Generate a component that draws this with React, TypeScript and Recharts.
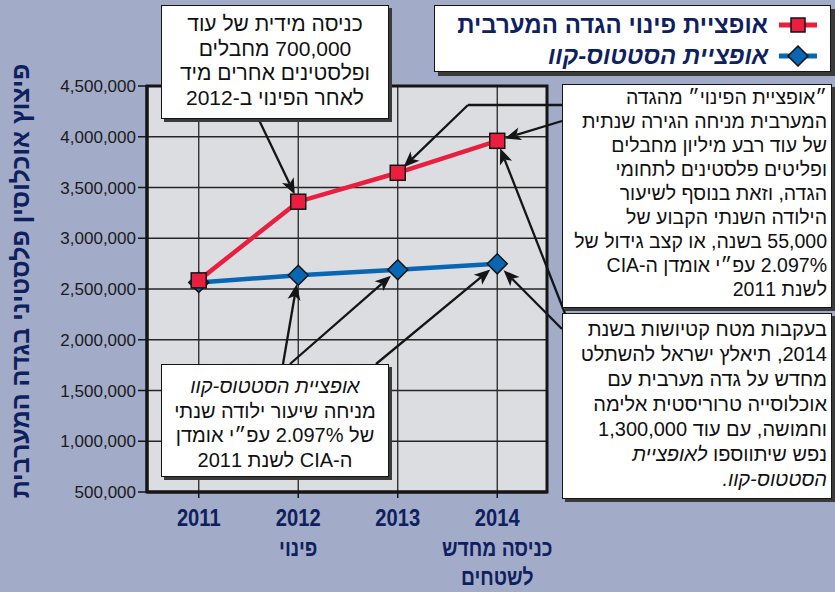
import React from 'react';
import {
  LineChart,
  Line,
  XAxis,
  YAxis,
  CartesianGrid,
  ReferenceLine,
  ReferenceArea,
} from 'recharts';

// ---------- data ----------
const years = [2011, 2012, 2013, 2014];
const evacuationSeries = [2585000, 3360000, 3645000, 3960000];
const statusQuoSeries = [2565000, 2635000, 2690000, 2748000];
const yTicks = [500000, 1000000, 1500000, 2000000, 2500000, 3000000, 3500000, 4000000, 4500000];
const xSubLabels: string[][] = [[], ['פינוי'], [], ['כניסה מחדש', 'לשטחים']];
const evacuationName = 'אופציית פינוי הגדה המערבית';
const statusQuoName = 'אופציית הסטטוס-קוו';
const yTitle = 'פיצוץ אוכלוסין פלסטיני בגדה המערבית';

const data = years.map((year, i) => ({
  year,
  evac: evacuationSeries[i],
  sq: statusQuoSeries[i],
}));

// ---------- layout / style ----------
const W = 835;
const H = 592;
const PLOT_LEFT = 147;
const PLOT_TOP = 86;
const PLOT_RIGHT = 547;
const PLOT_BOTTOM = 492;
const X_DOMAIN: [number, number] = [2010.48, 2014.5];
const Y_DOMAIN: [number, number] = [500000, 4500000];

const BG = '#a2abc8';
const PLOT_BG = '#dcdde1';
const NAVY = '#0f205e';
const RED = '#ea1f3f';
const BLUE = '#0866b2';
const INK = '#151515';
const FONT = "'Liberation Sans', Arial, 'DejaVu Sans', sans-serif";

// pixel -> data helpers for annotation tails (annotation anchors only)
const toX = (px: number) =>
  X_DOMAIN[0] + ((px - PLOT_LEFT) / (PLOT_RIGHT - PLOT_LEFT)) * (X_DOMAIN[1] - X_DOMAIN[0]);
const toY = (py: number) =>
  Y_DOMAIN[1] - ((py - PLOT_TOP) / (PLOT_BOTTOM - PLOT_TOP)) * (Y_DOMAIN[1] - Y_DOMAIN[0]);

type Arrow = { tail: [number, number]; to?: { series: 'evac' | 'sq'; idx: number }; end?: [number, number]; gap: number; head: boolean };

const arrows: Arrow[] = [
  { tail: [259, 120], to: { series: 'evac', idx: 1 }, gap: 8, head: true },
  { tail: [562, 105], end: [468, 105], gap: 0, head: false },
  { tail: [468, 105], to: { series: 'evac', idx: 2 }, gap: 8, head: true },
  { tail: [562, 121], to: { series: 'evac', idx: 3 }, gap: 8, head: true },
  { tail: [566, 316], to: { series: 'evac', idx: 3 }, gap: 8, head: true },
  { tail: [562, 329], to: { series: 'sq', idx: 3 }, gap: 9, head: true },
  { tail: [283, 364], to: { series: 'sq', idx: 1 }, gap: 9, head: true },
  { tail: [290, 364], to: { series: 'sq', idx: 2 }, gap: 9, head: true },
  { tail: [376, 364], to: { series: 'sq', idx: 3 }, gap: 9, head: true },
];

const arrowShape = (gap: number, head: boolean) => (props: any) => {
  const { x1, y1, x2, y2 } = props;
  const dx = x2 - x1;
  const dy = y2 - y1;
  const len = Math.hypot(dx, dy) || 1;
  const ux = dx / len;
  const uy = dy / len;
  if (!head) {
    return <line x1={x1} y1={y1} x2={x2 - ux * 0} y2={y2} stroke={INK} strokeWidth={2.3} />;
  }
  const tipX = x2 - ux * gap;
  const tipY = y2 - uy * gap;
  const hl = 16;
  const hw = 6.5;
  const bx = tipX - ux * hl;
  const by = tipY - uy * hl;
  const nx = -uy;
  const ny = ux;
  const notchX = tipX - ux * (hl - 4);
  const notchY = tipY - uy * (hl - 4);
  return (
    <g>
      <line x1={x1} y1={y1} x2={notchX} y2={notchY} stroke={INK} strokeWidth={2.3} />
      <polygon
        points={`${tipX},${tipY} ${bx + nx * hw},${by + ny * hw} ${notchX},${notchY} ${bx - nx * hw},${by - ny * hw}`}
        fill={INK}
      />
    </g>
  );
};

const SquareDot = (props: any) => {
  const { cx, cy, index } = props;
  if (cx == null || cy == null) return <g key={`sqd-${index}`} />;
  const s = 15;
  return (
    <rect
      key={`sq-${index}`}
      x={cx - s / 2}
      y={cy - s / 2}
      width={s}
      height={s}
      fill={RED}
      stroke={INK}
      strokeWidth={1.5}
    />
  );
};

const DiamondDot = (props: any) => {
  const { cx, cy, index } = props;
  if (cx == null || cy == null) return <g key={`dmd-${index}`} />;
  const r = 10;
  return (
    <polygon
      key={`dm-${index}`}
      points={`${cx},${cy - r} ${cx + r},${cy} ${cx},${cy + r} ${cx - r},${cy}`}
      fill={BLUE}
      stroke={INK}
      strokeWidth={1.5}
    />
  );
};

const XTick = (props: any) => {
  const { x, y, payload } = props;
  const idx = years.indexOf(payload.value);
  const lines = [String(payload.value), ...(xSubLabels[idx] || [])];
  const offs = [26, 56, 85];
  return (
    <g transform={`translate(${x},${y})`}>
      {lines.map((t, i) => (
        <text
          key={i}
          transform={`translate(0,${offs[i]}) scale(0.84,1)`}
          textAnchor="middle"
          fill={NAVY}
          fontWeight="bold"
          fontSize={i === 0 ? 24 : 23}
          fontFamily={FONT}
          direction={i === 0 ? 'ltr' : 'rtl'}
        >
          {t}
        </text>
      ))}
    </g>
  );
};

const YTitle = () => (
  <text
    x={20}
    y={281}
    transform="rotate(-90 20 281)"
    textAnchor="middle"
    dominantBaseline="central"
    fill={NAVY}
    fontWeight="bold"
    fontSize={25}
    fontFamily={FONT}
  >
    {yTitle}
  </text>
);

// ---------- overlay boxes ----------
type BoxProps = {
  left: number;
  top: number;
  width: number;
  height: number;
  align: 'center' | 'right';
  fontSize: number;
  lineHeight: number;
  padTop: number;
  padX?: number;
  children: React.ReactNode;
};

const NoteBox = ({ left, top, width, height, align, fontSize, lineHeight, padTop, padX = 4, children }: BoxProps) => (
  <div
    dir="rtl"
    style={{
      position: 'absolute',
      left,
      top,
      width,
      height,
      boxSizing: 'border-box',
      background: '#ffffff',
      border: `1.5px solid ${INK}`,
      boxShadow: '3px 3px 0 #3a3a3a',
      fontFamily: FONT,
      fontSize,
      lineHeight: `${lineHeight}px`,
      color: '#111',
      textAlign: align,
      paddingTop: padTop,
      paddingLeft: padX,
      paddingRight: padX,
      whiteSpace: 'nowrap',
      overflow: 'hidden',
    }}
  >
    {children}
  </div>
);

const LegendSwatch = ({ kind }: { kind: 'square' | 'diamond' }) => (
  <svg width={40} height={22} style={{ display: 'block' }}>
    <line x1={1} y1={11} x2={39} y2={11} stroke={kind === 'square' ? RED : BLUE} strokeWidth={5} />
    {kind === 'square' ? (
      <rect x={13} y={4} width={14} height={14} fill={RED} stroke={INK} strokeWidth={1.5} />
    ) : (
      <polygon points="20,1 30,11 20,21 10,11" fill={BLUE} stroke={INK} strokeWidth={1.5} />
    )}
  </svg>
);

const LegendRow = ({ kind, label, italic }: { kind: 'square' | 'diamond'; label: string; italic?: boolean }) => (
  <div dir="rtl" style={{ display: 'flex', alignItems: 'center', height: 31, gap: 10 }}>
    <LegendSwatch kind={kind} />
    <span
      style={{
        fontFamily: FONT,
        fontWeight: 'bold',
        fontStyle: italic ? 'italic' : 'normal',
        fontSize: 24,
        color: NAVY,
        whiteSpace: 'nowrap',
      }}
    >
      {label}
    </span>
  </div>
);

export default function App() {
  return (
    <div style={{ position: 'absolute', left: 0, top: 0, width: W, height: H, background: BG, overflow: 'hidden' }}>
      <LineChart
        width={W}
        height={H}
        data={data}
        margin={{ top: PLOT_TOP, right: W - PLOT_RIGHT, bottom: 0, left: 0 }}
      >
        <CartesianGrid stroke="#262626" strokeWidth={1.3} fill={PLOT_BG} fillOpacity={1} />
        <XAxis
          dataKey="year"
          type="number"
          domain={X_DOMAIN}
          ticks={years}
          allowDataOverflow
          height={H - PLOT_BOTTOM}
          tick={<XTick />}
          tickSize={6}
          tickMargin={2}
          tickLine={{ stroke: INK, strokeWidth: 1.5 }}
          axisLine={{ stroke: INK, strokeWidth: 3 }}
          interval={0}
        />
        <YAxis
          type="number"
          domain={Y_DOMAIN}
          ticks={yTicks}
          width={PLOT_LEFT}
          allowDataOverflow
          interval={0}
          tickSize={9}
          tickMargin={2}
          tickLine={{ stroke: INK, strokeWidth: 1.5 }}
          axisLine={{ stroke: INK, strokeWidth: 3 }}
          tick={{ fill: '#1a1a1a', fontSize: 17, fontFamily: FONT }}
          tickFormatter={(v: number) => v.toLocaleString('en-US')}
          label={{ content: () => <YTitle /> }}
        />
        <ReferenceArea
          x1={X_DOMAIN[0]}
          x2={X_DOMAIN[1]}
          y1={Y_DOMAIN[0]}
          y2={Y_DOMAIN[1]}
          fill="none"
          fillOpacity={0}
          stroke={INK}
          strokeWidth={3}
          ifOverflow="visible"
        />
        <Line
          type="linear"
          dataKey="sq"
          name={statusQuoName}
          stroke={BLUE}
          strokeWidth={4.5}
          dot={DiamondDot}
          isAnimationActive={false}
        />
        <Line
          type="linear"
          dataKey="evac"
          name={evacuationName}
          stroke={RED}
          strokeWidth={4.5}
          dot={SquareDot}
          isAnimationActive={false}
        />
        {arrows.map((a, i) => {
          const endX = a.to ? years[a.to.idx] : toX(a.end![0]);
          const endY = a.to
            ? (a.to.series === 'evac' ? evacuationSeries : statusQuoSeries)[a.to.idx]
            : toY(a.end![1]);
          return (
            <ReferenceLine
              key={`arrow-${i}`}
              segment={[
                { x: toX(a.tail[0]), y: toY(a.tail[1]) },
                { x: endX, y: endY },
              ]}
              ifOverflow="visible"
              shape={arrowShape(a.gap, a.head)}
            />
          );
        })}
      </LineChart>

      <div style={{ position: 'absolute', left: 0, top: 0, width: W, height: H, pointerEvents: 'none' }}>
        {/* legend */}
        <div
          style={{
            position: 'absolute',
            left: 434,
            top: 5,
            width: 397,
            height: 67,
            boxSizing: 'border-box',
            background: '#fff',
            border: `1.5px solid ${INK}`,
            boxShadow: '4px 4px 0 #3a3a3a',
            paddingTop: 3,
            paddingRight: 12,
          }}
        >
          <LegendRow kind="square" label={evacuationName} />
          <LegendRow kind="diamond" label={statusQuoName} italic />
        </div>

        <NoteBox left={161} top={5} width={228} height={114} align="center" fontSize={21} lineHeight={24.5} padTop={6}>
          <div>כניסה מידית של עוד</div>
          <div>700,000 מחבלים</div>
          <div>ופלסטינים אחרים מיד</div>
          <div>לאחר הפינוי ב-2012</div>
        </NoteBox>

        <NoteBox left={562} top={84} width={270} height={224} align="right" fontSize={19.5} lineHeight={24} padTop={0} padX={4}>
          <div>״אופציית הפינוי״ מהגדה</div>
          <div>המערבית מניחה הגירה שנתית</div>
          <div>של עוד רבע מיליון מחבלים</div>
          <div>ופליטים פלסטינים לתחומי</div>
          <div>הגדה, וזאת בנוסף לשיעור</div>
          <div>הילודה השנתי הקבוע של</div>
          <div>55,000 בשנה, או קצב גידול של</div>
          <div>2.097% עפ״י אומדן ה-CIA</div>
          <div>לשנת 2011</div>
        </NoteBox>

        <NoteBox left={562} top={313} width={270} height={186} align="right" fontSize={20} lineHeight={25} padTop={3} padX={4}>
          <div>בעקבות מטח קטיושות בשנת</div>
          <div>2014, תיאלץ ישראל להשתלט</div>
          <div>מחדש על גדה מערבית עם</div>
          <div>אוכלוסייה טרוריסטית אלימה</div>
          <div>וחמושה, עם עוד 1,300,000</div>
          <div>
            נפש שיתווספו <i>לאופציית</i>
          </div>
          <div>
            <i>הסטטוס-קוו.</i>
          </div>
        </NoteBox>

        <NoteBox left={161} top={364} width={228} height={113} align="center" fontSize={20} lineHeight={24.5} padTop={9}>
          <div>
            <i>אופציית הסטטוס-קוו</i>
          </div>
          <div>מניחה שיעור ילודה שנתי</div>
          <div>של 2.097% עפ״י אומדן</div>
          <div>ה-CIA לשנת 2011</div>
        </NoteBox>
      </div>
    </div>
  );
}
